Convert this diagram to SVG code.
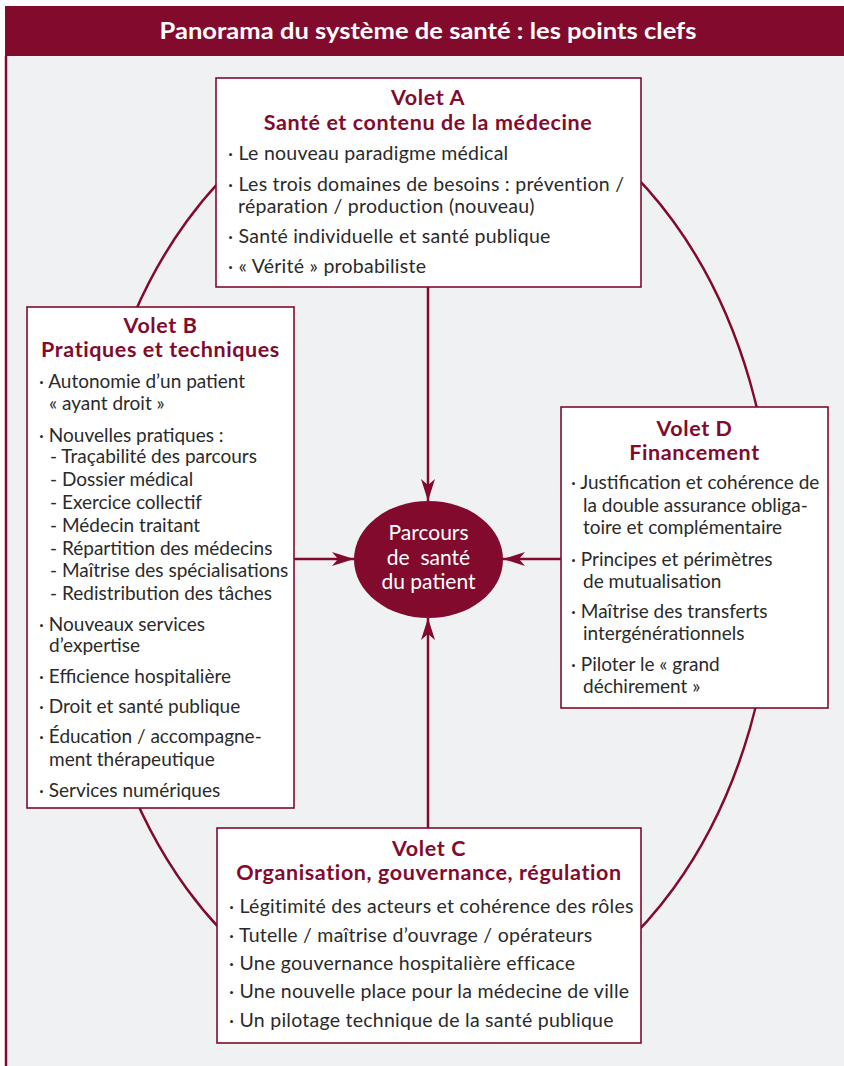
<svg xmlns="http://www.w3.org/2000/svg" width="844" height="1066" viewBox="0 0 844 1066">
<defs>
<style>
.bg{fill:#F0F1F3}
.box{fill:#FFFFFF;stroke:#820A2D;stroke-width:1.6}
.h{font-family:Lato,"Open Sans",sans-serif;font-weight:bold;font-size:21.5px;letter-spacing:0.6px;fill:#820A2D;text-anchor:middle}
.t{font-family:Lato,"Open Sans",sans-serif;font-size:19px;fill:#2A2A2A}
.w{font-size:19.5px;letter-spacing:0.25px}
.c{font-family:Lato,"Open Sans",sans-serif;font-size:21px;fill:#FFFFFF;text-anchor:middle}
.ln{stroke:#820A2D;stroke-width:2.5;fill:none}
</style>
<marker id="ah" viewBox="0 0 22 14" refX="22" refY="7" markerWidth="22" markerHeight="14" markerUnits="userSpaceOnUse" orient="auto">
<path d="M22,7 L0,0 L6,7 L0,14 Z" fill="#820A2D"/>
</marker>
</defs>
<rect x="0" y="0" width="844" height="1066" fill="#FFFFFF"/>
<rect class="bg" x="5" y="56" width="839" height="1010"/>
<rect x="5" y="6" width="839" height="50" fill="#820A2D"/>
<line x1="6" y1="56" x2="6" y2="1066" stroke="#820A2D" stroke-width="2.5"/>
<text x="428" y="39" font-family="Lato,'Open Sans',sans-serif" font-weight="bold" font-size="23" fill="#FFFFFF" text-anchor="middle" textLength="537" lengthAdjust="spacingAndGlyphs">Panorama du système de santé : les points clefs</text>

<g id="connectors">
<ellipse class="ln" cx="430" cy="555" rx="344" ry="472" stroke-width="2"/>
<line class="ln" x1="428" y1="287" x2="428" y2="501" marker-end="url(#ah)"/>
<line class="ln" x1="294" y1="559" x2="354" y2="559" marker-end="url(#ah)"/>
<line class="ln" x1="561" y1="559" x2="503" y2="559" marker-end="url(#ah)"/>
<line class="ln" x1="428" y1="828" x2="428" y2="618" marker-end="url(#ah)"/>
</g>

<g id="voletA">
<rect class="box" x="216" y="78" width="425" height="209"/>
<text class="h" x="428" y="105">Volet A</text>
<text class="h" x="428" y="130">Santé et contenu de la médecine</text>
<text class="t w" x="228" y="160">· Le nouveau paradigme médical</text>
<text class="t w" x="228" y="190.5">· Les trois domaines de besoins : prévention /</text>
<text class="t w" x="238" y="213">réparation / production (nouveau)</text>
<text class="t w" x="228" y="242.5">· Santé individuelle et santé publique</text>
<text class="t w" x="228" y="273">· « Vérité » probabiliste</text>
</g>

<g id="voletB">
<rect class="box" x="27" y="307" width="267" height="501"/>
<text class="h" x="160.5" y="333">Volet B</text>
<text class="h" x="160.5" y="357">Pratiques et techniques</text>
<text class="t" x="39" y="388.3">· Autonomie d’un patient</text>
<text class="t" x="49" y="410">« ayant droit »</text>
<text class="t" x="39" y="441.7">· Nouvelles pratiques :</text>
<text class="t" x="50" y="463.3">- Traçabilité des parcours</text>
<text class="t" x="50" y="486">- Dossier médical</text>
<text class="t" x="50" y="509">- Exercice collectif</text>
<text class="t" x="50" y="531.7">- Médecin traitant</text>
<text class="t" x="50" y="555">- Répartition des médecins</text>
<text class="t" x="50" y="577.3">- Maîtrise des spécialisations</text>
<text class="t" x="50" y="600">- Redistribution des tâches</text>
<text class="t" x="39" y="630.7">· Nouveaux services</text>
<text class="t" x="49" y="652.3">d’expertise</text>
<text class="t" x="39" y="683.3">· Efficience hospitalière</text>
<text class="t" x="39" y="713.3">· Droit et santé publique</text>
<text class="t" x="39" y="743.3">· Éducation / accompagne-</text>
<text class="t" x="49" y="766">ment thérapeutique</text>
<text class="t" x="39" y="796.7">· Services numériques</text>
</g>

<g id="voletD">
<rect class="box" x="561" y="407" width="267" height="301"/>
<text class="h" x="694.5" y="436">Volet D</text>
<text class="h" x="694.5" y="460">Financement</text>
<text class="t" x="571" y="489.3">· Justification et cohérence de</text>
<text class="t" x="583" y="511.7">la double assurance obliga-</text>
<text class="t" x="583" y="534.3">toire et complémentaire</text>
<text class="t" x="571" y="565.7">· Principes et périmètres</text>
<text class="t" x="583" y="587.7">de mutualisation</text>
<text class="t" x="571" y="618.3">· Maîtrise des transferts</text>
<text class="t" x="583" y="640">intergénérationnels</text>
<text class="t" x="571" y="670.7">· Piloter le « grand</text>
<text class="t" x="583" y="692.7">déchirement »</text>
</g>

<g id="voletC">
<rect class="box" x="217" y="828" width="424" height="215"/>
<text class="h" x="429" y="856">Volet C</text>
<text class="h" x="429" y="880">Organisation, gouvernance, régulation</text>
<text class="t w" x="229" y="913.3">· Légitimité des acteurs et cohérence des rôles</text>
<text class="t w" x="229" y="941.7">· Tutelle / maîtrise d’ouvrage / opérateurs</text>
<text class="t w" x="229" y="970">· Une gouvernance hospitalière efficace</text>
<text class="t w" x="229" y="998.3">· Une nouvelle place pour la médecine de ville</text>
<text class="t w" x="229" y="1027.3">· Un pilotage technique de la santé publique</text>
</g>

<g id="parcours">
<ellipse cx="428.5" cy="559.5" rx="74.5" ry="58.5" fill="#820A2D"/>
<text class="c" x="428.5" y="540">Parcours</text>
<text class="c" x="428.5" y="565" xml:space="preserve">de  santé</text>
<text class="c" x="428.5" y="589">du patient</text>
</g>
</svg>
